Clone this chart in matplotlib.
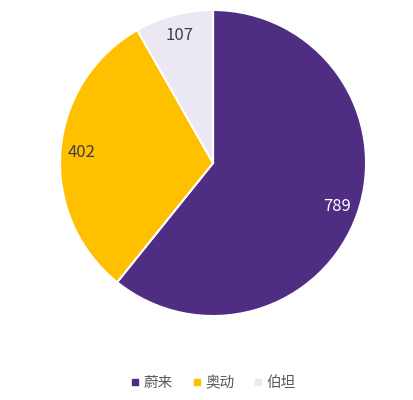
import matplotlib.pyplot as plt
from matplotlib.lines import Line2D

plt.rcParams['font.family'] = ['Noto Sans CJK SC', 'DejaVu Sans']

labels = ['蔚来', '奥动', '伯坦']
values = [789, 402, 107]
colors = ['#4E2D82', '#FFC000', '#EBE7F3']
text_colors = ['white', '#404040', '#404040']

fig = plt.figure(figsize=(4.13, 4.0), dpi=100)
ax = fig.add_axes([0.1453, 0.21, 0.741, 0.765])

wedges, texts = ax.pie(values, colors=colors, startangle=90, counterclock=False,
                       radius=1, labels=[str(v) for v in values],
                       labeldistance=0.86,
                       wedgeprops=dict(edgecolor='white', linewidth=1.5))
for t, c in zip(texts, text_colors):
    t.set_color(c)
    t.set_fontsize(12)
    t.set_ha('center')
    t.set_va('center')
ax.set_xlim(-1.0, 1.0)
ax.set_ylim(-1.0, 1.0)
ax.set_aspect('equal')

handles = [Line2D([], [], marker='s', linestyle='', markersize=4.5,
                  markerfacecolor=c, markeredgecolor=c) for c in colors]
leg = fig.legend(handles, labels, loc='center', bbox_to_anchor=(0.515, 0.042),
                 ncol=3, frameon=False, fontsize=10.5, handletextpad=0.2,
                 columnspacing=1.2, handlelength=0.8)
for t in leg.get_texts():
    t.set_color('#595959')

fig.savefig('out.png', dpi=100)
